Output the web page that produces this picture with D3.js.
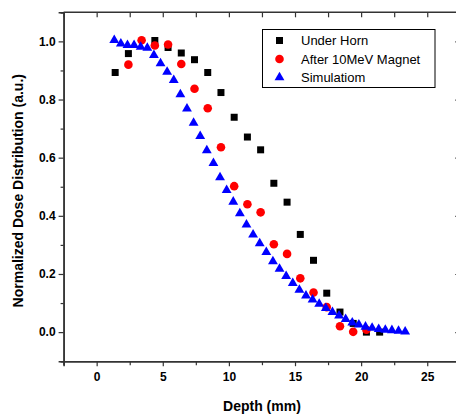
<!DOCTYPE html>
<html><head><meta charset="utf-8">
<script src="https://cdn.jsdelivr.net/npm/d3@7"></script>
<style>body{margin:0;background:#fff}svg{display:block}</style>
</head><body>
<svg id="c" width="456" height="414"></svg>
<script>
const hornX = [1.4, 2.4, 4.4, 5.4, 6.4, 7.4, 8.4, 9.4, 10.4, 11.4, 12.4, 13.4, 14.4, 15.4, 16.4, 17.4, 18.4, 19.4, 20.4, 21.4];
const hornY = [0.893, 0.958, 1.003, 0.979, 0.960, 0.937, 0.893, 0.824, 0.739, 0.671, 0.627, 0.512, 0.447, 0.336, 0.247, 0.134, 0.069, 0.030, 0.0, 0.0];
const magX = [2.4, 3.4, 4.4, 5.4, 6.4, 7.4, 8.4, 9.4, 10.4, 11.4, 12.4, 13.4, 14.4, 15.4, 16.4, 17.4, 18.4, 19.4, 20.4];
const magY = [0.920, 1.004, 0.986, 0.989, 0.922, 0.837, 0.770, 0.636, 0.502, 0.440, 0.412, 0.302, 0.269, 0.185, 0.136, 0.086, 0.020, 0.001, 0.008];
const simX = [1.33,1.83,2.33,2.83,3.33,3.83,4.33,4.83,5.33,5.83,6.33,6.83,7.33,7.83,8.33,8.83,9.33,9.83,10.33,10.83,11.33,11.83,12.33,12.83,13.33,13.83,14.33,14.83,15.33,15.83,16.33,16.83,17.33,17.83,18.33,18.83,19.33,19.83,20.33,20.83,21.33,21.83,22.33,22.83,23.33];
const simY = [1.006,0.994,0.989,0.989,0.983,0.979,0.954,0.926,0.897,0.868,0.819,0.770,0.721,0.676,0.627,0.583,0.534,0.490,0.450,0.410,0.371,0.337,0.307,0.277,0.245,0.219,0.194,0.170,0.147,0.127,0.113,0.099,0.084,0.070,0.058,0.046,0.034,0.027,0.020,0.016,0.012,0.009,0.008,0.006,0.003];
const xTicks = [0, 5, 10, 15, 20, 25];
const yTicks = [0.0, 0.2, 0.4, 0.6, 0.8, 1.0];
const seriesNames = ["Under Horn", "After 10MeV Magnet", "Simulatiom"];

const svg = d3.select("#c");
const L = 63.6, R = 460.3, T = 12.3, B = 361.2;
const x = d3.scaleLinear().domain([-2.5, 27.5]).range([L, R]);
const y = d3.scaleLinear().domain([-0.1, 1.1]).range([B, T]);
const axCol = "#333";
const font = "Arial, 'Liberation Sans', sans-serif";

// minor ticks
const xMinor = d3.range(-2.5, 27.6, 2.5);
const yMinor = d3.range(-0.1, 1.101, 0.1).map(v => +v.toFixed(2));

// bottom axis
const gB = svg.append("g").attr("transform", `translate(0,${B})`)
  .call(d3.axisBottom(x).tickValues(xTicks).tickSize(5).tickPadding(6).tickFormat(d3.format("d")));
gB.append("g").call(d3.axisBottom(x).tickValues(xMinor.filter(v => v % 5 !== 0)).tickSize(4).tickFormat(""));
// top axis (inward ticks)
const gT = svg.append("g").attr("transform", `translate(0,${T})`)
  .call(d3.axisBottom(x).tickValues(xMinor).tickSize(5).tickFormat(""));
// left axis
const gL = svg.append("g").attr("transform", `translate(${L},0)`)
  .call(d3.axisLeft(y).tickValues(yTicks).tickSize(5).tickPadding(3).tickFormat(d3.format(".1f")));
gL.append("g").call(d3.axisLeft(y).tickValues(yMinor.filter(v => Math.abs(Math.round(v*10)) % 2 === 1)).tickSize(3).tickFormat(""));
// right axis (inward)
const gR = svg.append("g").attr("transform", `translate(${R},0)`)
  .call(d3.axisLeft(y).tickValues(yTicks).tickSize(5).tickFormat(""));

svg.selectAll(".domain").attr("stroke", axCol).attr("stroke-width", 1.5);
svg.selectAll(".tick line").attr("stroke", axCol).attr("stroke-width", 1.2);
svg.selectAll(".tick text").attr("font-family", font).attr("font-weight", "bold").attr("font-size", 12).attr("fill", "#000");
gT.select(".domain").remove();
gR.select(".domain").remove();
svg.append("line").attr("x1", L).attr("x2", R).attr("y1", T).attr("y2", T).attr("stroke", axCol).attr("stroke-width", 1.5);
svg.append("line").attr("x1", R).attr("x2", R).attr("y1", T).attr("y2", B).attr("stroke", axCol).attr("stroke-width", 1.5);

// axis titles
svg.append("text").attr("x", (L + R) / 2).attr("y", 411).attr("text-anchor", "middle")
  .attr("font-family", font).attr("font-weight", "bold").attr("font-size", 14).text("Depth (mm)");
svg.append("text").attr("transform", `translate(23,${(T + B) / 2 + 4}) rotate(-90)`).attr("text-anchor", "middle")
  .attr("font-family", font).attr("font-weight", "bold").attr("font-size", 14).text("Normalized Dose Distribution (a.u.)");

// data
const sq = d3.symbol().type(d3.symbolSquare).size(49);
const ci = d3.symbol().type(d3.symbolCircle).size(58);
const tr = d3.symbol().type(d3.symbolTriangle).size(42);
const hornD = hornX.map((v, i) => [v, hornY[i]]);
const magD = magX.map((v, i) => [v, magY[i]]);
const simD = simX.map((v, i) => [v, simY[i]]);
svg.append("g").selectAll("path").data(hornD).join("path").attr("d", sq)
  .attr("transform", d => `translate(${x(d[0])},${y(d[1])})`).attr("fill", "#000");
svg.append("g").selectAll("path").data(magD).join("path").attr("d", ci)
  .attr("transform", d => `translate(${x(d[0])},${y(d[1])})`).attr("fill", "#ff0000");
svg.append("g").selectAll("path").data(simD).join("path").attr("d", tr)
  .attr("transform", d => `translate(${x(d[0])},${y(d[1]) + 0.5})`).attr("fill", "#0000ff");

// legend
const lg = svg.append("g");
lg.append("rect").attr("x", 262.5).attr("y", 29.5).attr("width", 172.5).attr("height", 58)
  .attr("fill", "#fff").attr("stroke", "#000").attr("stroke-width", 1);
const lgRows = [40.5, 59, 77.5];
const syms = [sq, ci, tr];
const cols = ["#000", "#ff0000", "#0000ff"];
seriesNames.forEach((n, i) => {
  lg.append("path").attr("d", syms[i]).attr("transform", `translate(279.5,${lgRows[i]})`).attr("fill", cols[i]);
  lg.append("text").attr("x", 301).attr("y", lgRows[i] + 4.5).attr("font-family", font)
    .attr("font-size", 13).text(n);
});
</script>
</body></html>
